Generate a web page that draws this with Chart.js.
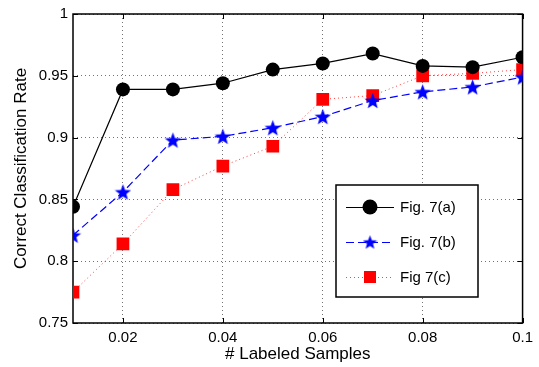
<!DOCTYPE html>
<html lang="en">
<head>
  <meta charset="UTF-8">
  <title>Correct Classification Rate</title>
  <script src="https://cdn.jsdelivr.net/npm/chart.js"></script>
  <style>
    html, body { margin: 0; padding: 0; background: #fff; }
    #wrap { width: 539px; height: 367px; }
  </style>
</head>
<body>
  <div id="wrap"><canvas id="myChart" width="539" height="367"></canvas></div>

  <script>
    // data
    var samples = [0.01, 0.02, 0.03, 0.04, 0.05, 0.06, 0.07, 0.08, 0.09, 0.1];
    var fig7a = [0.844, 0.939, 0.939, 0.944, 0.955, 0.960, 0.968, 0.958, 0.957, 0.965];
    var fig7b = [0.821, 0.856, 0.898, 0.901, 0.908, 0.917, 0.930, 0.937, 0.941, 0.949];
    var fig7c = [0.775, 0.814, 0.858, 0.877, 0.893, 0.931, 0.934, 0.950, 0.952, 0.955];
    var seriesNames = ['Fig. 7(a)', 'Fig. 7(b)', 'Fig 7(c)'];

    var xTicks = [0.02, 0.04, 0.06, 0.08, 0.1];
    var xTickLabels = ['0.02', '0.04', '0.06', '0.08', '0.1'];
    var yTicks = [0.75, 0.8, 0.85, 0.9, 0.95, 1];
    var yTickLabels = ['0.75', '0.8', '0.85', '0.9', '0.95', '1'];

    var FONT = 'Liberation Sans, Arial, Helvetica, sans-serif';

    // filled five point star used as marker
    function makeStar(size, color) {
      var c = document.createElement('canvas');
      c.width = size; c.height = size;
      var g = c.getContext('2d');
      var cx = size / 2, cy = size / 2 + size * 0.05;
      var R = size / 2, r = R * 0.42;
      g.beginPath();
      for (var i = 0; i < 10; i++) {
        var rad = (i % 2 === 0) ? R : r;
        var a = -Math.PI / 2 + i * Math.PI / 5;
        var px = cx + rad * Math.cos(a), py = cy + rad * Math.sin(a);
        if (i === 0) g.moveTo(px, py); else g.lineTo(px, py);
      }
      g.closePath();
      g.fillStyle = color;
      g.fill();
      return c;
    }
    var starImg = makeStar(17, '#0000ff');
    var starSmall = makeStar(15, '#0000ff');

    function pts(ys) {
      return ys.map(function (y, i) { return { x: samples[i], y: y }; });
    }

    // box round the axes with inward ticks
    var framePlugin = {
      id: 'frame',
      beforeDatasetsDraw: function (chart) {
        var a = chart.chartArea, ctx = chart.ctx;
        var xs = chart.scales.x, ys = chart.scales.y;
        ctx.save();
        ctx.strokeStyle = '#000';
        ctx.lineWidth = 1;
        ctx.beginPath();
        xTicks.forEach(function (v) {
          var px = Math.round(xs.getPixelForValue(v)) + 0.5;
          ctx.moveTo(px, a.bottom); ctx.lineTo(px, a.bottom - 5);
          ctx.moveTo(px, a.top); ctx.lineTo(px, a.top + 5);
        });
        yTicks.forEach(function (v) {
          var py = Math.round(ys.getPixelForValue(v)) + 0.5;
          ctx.moveTo(a.left, py); ctx.lineTo(a.left + 5, py);
          ctx.moveTo(a.right, py); ctx.lineTo(a.right - 5, py);
        });
        ctx.stroke();
        ctx.lineWidth = 1.5;
        ctx.strokeRect(a.left, a.top, a.right - a.left, a.bottom - a.top);
        ctx.restore();
      }
    };

    // legend box inside plot
    var legendPlugin = {
      id: 'boxLegend',
      afterDraw: function (chart) {
        var ctx = chart.ctx;
        var bx = 336, by = 185, bw = 142, bh = 112;
        ctx.save();
        ctx.fillStyle = '#fff';
        ctx.fillRect(bx, by, bw, bh);
        ctx.strokeStyle = '#000';
        ctx.lineWidth = 1.5;
        ctx.strokeRect(bx, by, bw, bh);
        var rows = [207, 242, 277];
        chart.data.datasets.forEach(function (ds, i) {
          var y = rows[i];
          ctx.strokeStyle = ds.borderColor;
          ctx.lineWidth = 1;
          ctx.setLineDash(ds.borderDash || []);
          ctx.beginPath();
          ctx.moveTo(346, y + 0.5); ctx.lineTo(394, y + 0.5);
          ctx.stroke();
          ctx.setLineDash([]);
          ctx.fillStyle = ds.pointBackgroundColor;
          if (i === 0) {
            ctx.beginPath(); ctx.arc(370, y, 7.5, 0, Math.PI * 2); ctx.fill();
          } else if (i === 1) {
            ctx.drawImage(starSmall, 370 - 7.5, y - 7.5);
          } else {
            ctx.fillRect(364, y - 6, 12, 12);
          }
          ctx.fillStyle = '#000';
          ctx.font = '15px ' + FONT;
          ctx.textBaseline = 'middle';
          ctx.textAlign = 'left';
          ctx.fillText(seriesNames[i], 400, y + 1);
        });
        ctx.restore();
      }
    };

    var ctx = document.getElementById('myChart').getContext('2d');

    var myChart = new Chart(ctx, {
      type: 'line',
      data: {
        datasets: [
          {
            label: seriesNames[0],
            data: pts(fig7a),
            borderColor: '#000000',
            borderWidth: 1.2,
            pointStyle: 'circle',
            pointRadius: 7,
            pointBackgroundColor: '#000000',
            pointBorderWidth: 0
          },
          {
            label: seriesNames[1],
            data: pts(fig7b),
            borderColor: '#0000ff',
            borderWidth: 1.2,
            borderDash: [8, 4],
            pointStyle: starImg,
            pointBackgroundColor: '#0000ff'
          },
          {
            label: seriesNames[2],
            data: pts(fig7c),
            borderColor: '#ff4040',
            borderWidth: 1,
            borderDash: [1, 3],
            pointStyle: 'rect',
            pointRadius: 9,
            pointBackgroundColor: '#ff0000',
            pointBorderWidth: 0
          }
        ]
      },
      options: {
        responsive: false,
        animation: false,
        layout: { padding: { left: 0, right: 10, top: 14, bottom: 0 } },
        plugins: {
          legend: { display: false },
          tooltip: { enabled: false }
        },
        elements: { line: { tension: 0 } },
        scales: {
          x: {
            type: 'linear',
            min: 0.01,
            max: 0.1,
            afterBuildTicks: function (s) { s.ticks = xTicks.map(function (v) { return { value: v }; }); },
            afterFit: function (s) { s.height = 44; },
            grid: { color: 'rgba(0,0,0,0.55)', drawTicks: false, lineWidth: 1 },
            border: { display: false, dash: [1, 3] },
            ticks: {
              padding: 6,
              color: '#000',
              font: { family: FONT, size: 15 },
              maxRotation: 0,
              callback: function (v, i) { return xTickLabels[i]; }
            },
            title: {
              display: true,
              text: '# Labeled Samples',
              color: '#000',
              font: { family: FONT, size: 17 },
              padding: { top: 0, bottom: 2 }
            }
          },
          y: {
            min: 0.75,
            max: 1,
            afterBuildTicks: function (s) { s.ticks = yTicks.map(function (v) { return { value: v }; }); },
            afterFit: function (s) { s.width = 73; },
            grid: { color: 'rgba(0,0,0,0.55)', drawTicks: false, lineWidth: 1 },
            border: { display: false, dash: [1, 3] },
            ticks: {
              padding: 5,
              color: '#000',
              font: { family: FONT, size: 15 },
              callback: function (v, i) { return yTickLabels[i]; }
            },
            title: {
              display: true,
              text: 'Correct Classification Rate',
              color: '#000',
              font: { family: FONT, size: 17 },
              padding: { top: 11, bottom: 0 }
            }
          }
        }
      },
      plugins: [framePlugin, legendPlugin]
    });
  </script>
</body>
</html>
